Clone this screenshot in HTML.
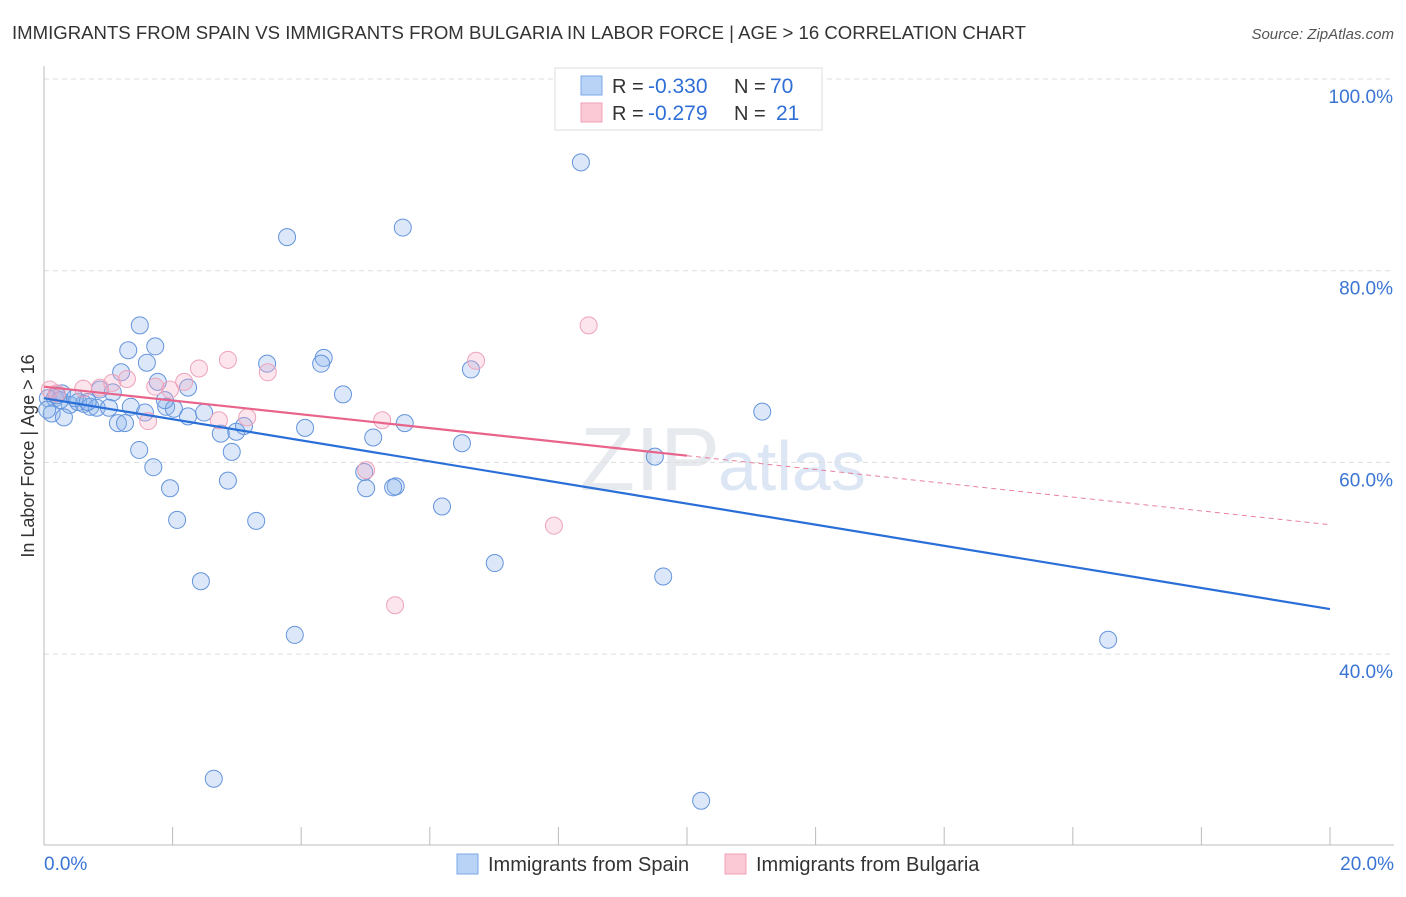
<!DOCTYPE html>
<html><head><meta charset="utf-8"><style>
body{margin:0;background:#fff;font-family:"Liberation Sans",sans-serif}
svg text{font-family:"Liberation Sans",sans-serif}
</style></head><body>
<svg id="chart" width="1406" height="892">
<text x="12" y="39" font-size="18" fill="#333" textLength="1014" lengthAdjust="spacingAndGlyphs">IMMIGRANTS FROM SPAIN VS IMMIGRANTS FROM BULGARIA IN LABOR FORCE | AGE &gt; 16 CORRELATION CHART</text>
<text x="1394" y="39" font-size="15" fill="#555" font-style="italic" text-anchor="end">Source: ZipAtlas.com</text>
<text x="720" y="490" font-size="90" fill="#e6e9ee" text-anchor="end" font-family="Liberation Serif">ZIP</text>
<text x="718" y="490" font-size="70" fill="#dde6f4">atlas</text>
<g id="grid"></g><g id="axes"></g><g id="marks"></g>
<text transform="translate(34,456) rotate(-90)" font-size="18" fill="#333" text-anchor="middle">In Labor Force | Age &gt; 16</text>
<g>
<rect x="555" y="68" width="267" height="62" fill="#fff" stroke="#ddd"/>
<rect x="581" y="76" width="21" height="19" fill="#b8d3f5" stroke="#7aa7e6"/>
<rect x="581" y="103" width="21" height="19" fill="#fbc8d6" stroke="#f0a0b8"/>
<text x="612" y="93" font-size="20" fill="#333">R = </text><text x="648" y="93" font-size="21" fill="#2f6fd6">-0.330</text>
<text x="734" y="93" font-size="20" fill="#333">N = </text><text x="770" y="93" font-size="21" fill="#2f6fd6">70</text>
<text x="612" y="120" font-size="20" fill="#333">R = </text><text x="648" y="120" font-size="21" fill="#2f6fd6">-0.279</text>
<text x="734" y="120" font-size="20" fill="#333">N = </text><text x="776" y="120" font-size="21" fill="#2f6fd6">21</text>
</g>
<g>
<rect x="457" y="854" width="21" height="20" fill="#b8d3f5" stroke="#7aa7e6"/>
<text x="488" y="871" font-size="20" fill="#333">Immigrants from Spain</text>
<rect x="725" y="854" width="21" height="20" fill="#fbc8d6" stroke="#f0a0b8"/>
<text x="756" y="871" font-size="20" fill="#333">Immigrants from Bulgaria</text>
</g>
</svg>
<script>
const xTickLabels=["0.0%","20.0%"];
const yTicks=[40,60,80,100];
const yTickLabels=["40.0%","60.0%","80.0%","100.0%"];
const spainX=[8.35,5.58,3.78,1.49,1.73,1.31,1.60,3.47,4.35,4.31,6.64,1.20,1.77,2.24,4.65,0.28,0.87,1.07,0.06,0.17,0.40,0.53,0.62,0.72,0.82,1.01,1.35,1.57,1.90,2.02,2.24,2.49,0.12,0.31,1.15,1.26,2.75,2.99,3.11,4.06,5.12,5.61,6.50,11.17,1.48,2.92,1.70,4.98,5.01,5.47,5.43,9.50,2.86,1.96,6.19,2.07,3.30,7.01,2.44,9.63,3.90,16.55,2.64,10.22,0.25,0.48,0.68,1.88,0.20,0.05];
const spainY=[91.3,84.5,83.5,74.3,72.1,71.7,70.4,70.3,70.9,70.3,69.7,69.4,68.4,67.8,67.1,67.2,67.6,67.3,66.7,66.7,66.0,66.3,66.1,65.8,65.7,65.7,65.8,65.2,65.8,65.6,64.8,65.2,65.1,64.7,64.1,64.1,63.0,63.2,63.8,63.6,62.6,64.1,62.0,65.3,61.3,61.1,59.5,59.0,57.3,57.5,57.4,60.6,58.1,57.3,55.4,54.0,53.9,49.5,47.6,48.1,42.0,41.5,27.0,24.7,66.5,66.7,66.3,66.5,67.0,65.5];
const bulgX=[0.09,0.20,0.61,0.87,1.06,1.29,1.73,1.96,2.18,2.41,2.86,3.48,2.72,3.16,1.62,5.26,5.01,6.72,8.47,7.93,5.46];
const bulgY=[67.6,67.2,67.7,67.8,68.3,68.7,67.9,67.6,68.4,69.8,70.7,69.4,64.4,64.7,64.3,64.4,59.2,70.6,74.3,53.4,45.1];
const spainTrend=[66.7,44.7];
const bulgTrend=[67.9,53.5];
const bulgSolidEnd=10.0;

const NS="http://www.w3.org/2000/svg";
const X=v=>44+v/20*1286;
const Y=v=>79+(100-v)*9.585;
function mk(tag,attrs,parent){const e=document.createElementNS(NS,tag);for(const k in attrs)e.setAttribute(k,attrs[k]);document.getElementById(parent).appendChild(e);return e;}
yTicks.forEach((t,i)=>{
 const g=mk('line',{x1:44,x2:1394,y1:Y(t),y2:Y(t),stroke:'#ddd','stroke-dasharray':'5,4'},'grid');
 
 
 const tx=mk('text',{x:1393,y:Y(t)+24,'font-size':19,fill:'#3a75d6','text-anchor':'end'},'axes');
 tx.textContent=yTickLabels[i];
 
 
});
let ax=mk('line',{x1:44,x2:44,y1:66,y2:845,stroke:'#bbb'},'axes');


ax=mk('line',{x1:44,x2:1394,y1:845,y2:845,stroke:'#bbb'},'axes');


for(let v=2;v<=20;v+=2){
 const t=mk('line',{x1:X(v),x2:X(v),y1:827,y2:845,stroke:'#bbb'},'axes');
 
 
}
[[0,'start',44],[20,'end',1394]].forEach((d,i)=>{
 const t=mk('text',{x:d[2],y:870,'font-size':19,fill:'#3a75d6','text-anchor':d[1]},'axes');
 t.textContent=xTickLabels[i];
 
 
});
spainX.forEach((x,i)=>{
 const c=mk('circle',{cx:X(x),cy:Y(spainY[i]),r:8.5,fill:'rgba(140,180,235,0.3)',stroke:'#6494dc','stroke-width':1},'marks');
 
 
});
bulgX.forEach((x,i)=>{
 const c=mk('circle',{cx:X(x),cy:Y(bulgY[i]),r:8.5,fill:'rgba(245,170,195,0.3)',stroke:'#eea3ba','stroke-width':1},'marks');
 
 
});
const bAt=x=>bulgTrend[0]+(bulgTrend[1]-bulgTrend[0])*x/20;
let l=mk('line',{x1:X(bulgSolidEnd),y1:Y(bAt(bulgSolidEnd)),x2:X(20),y2:Y(bulgTrend[1]),stroke:'#e8809f','stroke-width':1,'stroke-dasharray':'5,4'},'marks');


l=mk('line',{x1:X(0),y1:Y(bulgTrend[0]),x2:X(bulgSolidEnd),y2:Y(bAt(bulgSolidEnd)),stroke:'#e8648b','stroke-width':2.2},'marks');


l=mk('line',{x1:X(0),y1:Y(spainTrend[0]),x2:X(20),y2:Y(spainTrend[1]),stroke:'#2a6fd8','stroke-width':2.2},'marks');


</script>
</body></html>
